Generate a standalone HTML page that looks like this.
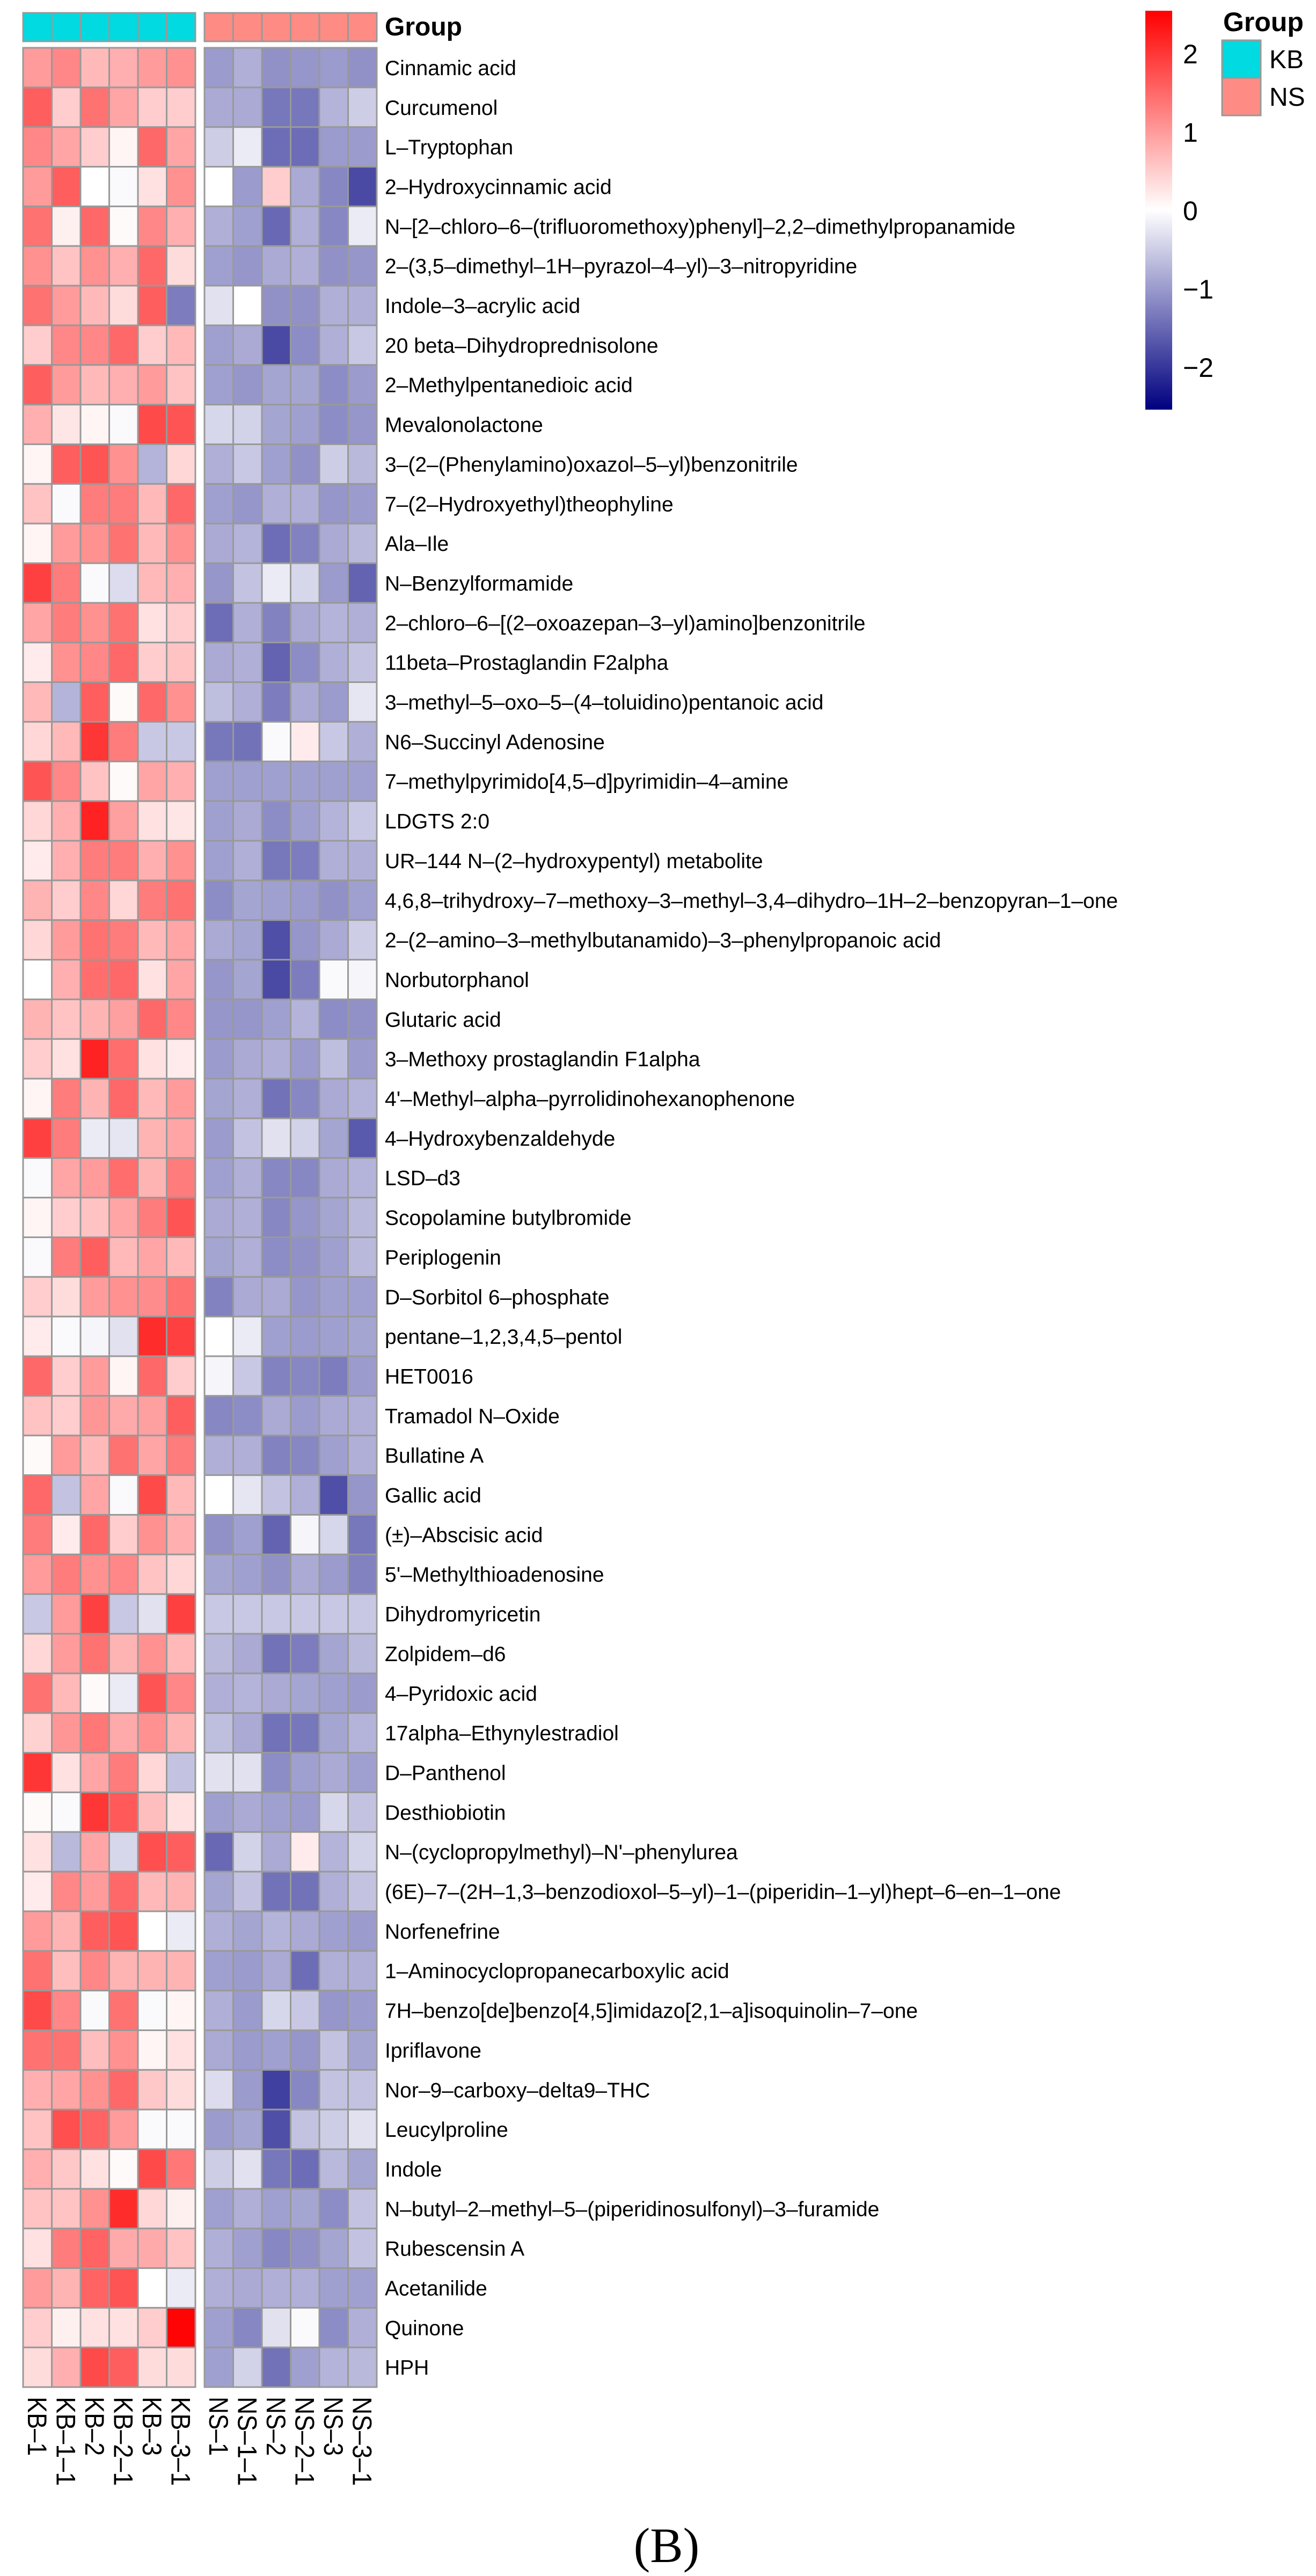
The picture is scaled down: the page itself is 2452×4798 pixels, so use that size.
<!DOCTYPE html>
<html><head><meta charset="utf-8"><style>
html,body{margin:0;padding:0;background:#fff;}
svg{display:block;}
text{font-family:"Liberation Sans",sans-serif;}
</style></head><body>
<svg id="chart" width="2452" height="4798" viewBox="0 0 2452 4798" xmlns="http://www.w3.org/2000/svg">
<defs>
<linearGradient id="cbar" x1="0" y1="1" x2="0" y2="0">
<stop offset="0" stop-color="#000080"/>
<stop offset="0.5" stop-color="#ffffff"/>
<stop offset="1" stop-color="#ff0000"/>
</linearGradient>
</defs>
<g id="heat"></g>
<g id="ann"></g>
<g id="rowlabels"></g>
<g id="collabels"></g>
<text x="717" y="66" font-size="48" font-weight="bold">Group</text>
<g>
<rect x="2134" y="20" width="50" height="743" fill="url(#cbar)"/>
<g id="cticks"></g>
</g>
<g>
<text x="2279" y="58" font-size="50" font-weight="bold">Group</text>
<rect x="2277" y="75" width="72" height="70" fill="#00DAE0" stroke="#999" stroke-width="3"/>
<rect x="2277" y="145" width="72" height="70" fill="#FF8C84" stroke="#999" stroke-width="3"/>
<text x="2365" y="127" font-size="48">KB</text>
<text x="2365" y="197" font-size="48">NS</text>
</g>
<text x="1242" y="4772" font-size="92" text-anchor="middle" style="font-family:'Liberation Serif',serif">(B)</text>
</svg>
<script>
const samples = ["KB–1","KB–1–1","KB–2","KB–2–1","KB–3","KB–3–1","NS–1","NS–1–1","NS–2","NS–2–1","NS–3","NS–3–1"];
const groups = ["KB","KB","KB","KB","KB","KB","NS","NS","NS","NS","NS","NS"];
const tickValues = [2,1,0,-1,-2];
const tickLabels = ["2","1","0","−1","−2"];
const metabolites = ["Cinnamic acid","Curcumenol","L–Tryptophan","2–Hydroxycinnamic acid","N–[2–chloro–6–(trifluoromethoxy)phenyl]–2,2–dimethylpropanamide","2–(3,5–dimethyl–1H–pyrazol–4–yl)–3–nitropyridine","Indole–3–acrylic acid","20 beta–Dihydroprednisolone","2–Methylpentanedioic acid","Mevalonolactone","3–(2–(Phenylamino)oxazol–5–yl)benzonitrile","7–(2–Hydroxyethyl)theophyline","Ala–Ile","N–Benzylformamide","2–chloro–6–[(2–oxoazepan–3–yl)amino]benzonitrile","11beta–Prostaglandin F2alpha","3–methyl–5–oxo–5–(4–toluidino)pentanoic acid","N6–Succinyl Adenosine","7–methylpyrimido[4,5–d]pyrimidin–4–amine","LDGTS 2:0","UR–144 N–(2–hydroxypentyl) metabolite","4,6,8–trihydroxy–7–methoxy–3–methyl–3,4–dihydro–1H–2–benzopyran–1–one","2–(2–amino–3–methylbutanamido)–3–phenylpropanoic acid","Norbutorphanol","Glutaric acid","3–Methoxy prostaglandin F1alpha","4'–Methyl–alpha–pyrrolidinohexanophenone","4–Hydroxybenzaldehyde","LSD–d3","Scopolamine butylbromide","Periplogenin","D–Sorbitol 6–phosphate","pentane–1,2,3,4,5–pentol","HET0016","Tramadol N–Oxide","Bullatine A","Gallic acid","(±)–Abscisic acid","5'–Methylthioadenosine","Dihydromyricetin","Zolpidem–d6","4–Pyridoxic acid","17alpha–Ethynylestradiol","D–Panthenol","Desthiobiotin","N–(cyclopropylmethyl)–N'–phenylurea","(6E)–7–(2H–1,3–benzodioxol–5–yl)–1–(piperidin–1–yl)hept–6–en–1–one","Norfenefrine","1–Aminocyclopropanecarboxylic acid","7H–benzo[de]benzo[4,5]imidazo[2,1–a]isoquinolin–7–one","Ipriflavone","Nor–9–carboxy–delta9–THC","Leucylproline","Indole","N–butyl–2–methyl–5–(piperidinosulfonyl)–3–furamide","Rubescensin A","Acetanilide","Quinone","HPH"];
const kbValues = [
[1.0,1.2,0.7,0.8,1.0,1.1],[1.6,0.5,1.4,0.9,0.5,0.5],[1.2,0.9,0.5,0.1,1.5,0.9],[1.0,1.6,0,-0.05,0.3,1.1],[1.4,0.15,1.5,0.05,1.2,0.8],
[1.1,0.6,1.1,0.8,1.5,0.35],[1.4,1.0,0.7,0.35,1.6,-1.3],[0.5,1.2,1.2,1.5,0.5,0.7],[1.6,1.0,0.7,0.8,1.0,0.6],[0.8,0.25,0.1,-0.05,1.8,1.7],
[0.1,1.6,1.7,1.1,-0.75,0.4],[0.6,-0.05,1.3,1.3,0.7,1.5],[0.1,1.0,1.1,1.4,0.7,1.1],[1.9,1.3,-0.05,-0.35,0.7,0.8],[0.9,1.3,1.1,1.4,0.3,0.5],
[0.2,1.1,1.2,1.5,0.5,0.6],[0.7,-0.75,1.6,0.05,1.5,1.1],[0.4,0.7,2.0,1.3,-0.55,-0.55],[1.7,1.2,0.6,0.05,0.9,0.8],[0.4,0.8,2.2,0.95,0.3,0.25],
[0.2,0.8,1.3,1.3,0.8,1.1],[0.75,0.5,1.2,0.4,1.3,1.4],[0.4,1.0,1.4,1.3,0.7,0.9],[0,0.8,1.45,1.5,0.3,0.9],[0.75,0.6,0.75,0.95,1.5,1.2],
[0.5,0.3,2.2,1.45,0.3,0.2],[0.1,1.3,0.75,1.5,0.7,1.0],[1.9,1.3,-0.2,-0.25,0.75,0.9],[-0.05,0.9,1.0,1.45,0.75,1.3],[0.1,0.5,0.6,0.9,1.3,1.7],
[-0.05,1.3,1.6,0.7,0.9,0.7],[0.5,0.35,1.0,1.1,1.15,1.4],[0.2,-0.05,-0.1,-0.3,2.1,1.9],[1.5,0.5,1.0,0.1,1.5,0.5],[0.6,0.5,1.05,0.85,0.95,1.6],
[0.05,1.0,0.7,1.4,0.9,1.3],[1.5,-0.6,0.9,-0.05,1.8,0.7],[1.3,0.2,1.5,0.5,1.1,0.8],[1.0,1.3,1.1,1.2,0.6,0.4],[-0.55,1.0,1.9,-0.55,-0.3,1.9],
[0.4,1.0,1.4,0.75,1.1,0.7],[1.4,0.7,0.05,-0.2,1.7,1.2],[0.45,1.05,1.35,0.85,1.1,0.75],[2.0,0.3,0.9,1.3,0.4,-0.6],[0.05,-0.05,2.0,1.65,0.65,0.3],
[0.3,-0.7,0.9,-0.4,1.75,1.6],[0.2,1.2,1.0,1.5,0.7,0.75],[1.0,0.75,1.6,1.7,0,-0.2],[1.4,0.65,1.2,0.75,0.75,0.75],[1.8,1.2,-0.05,1.4,-0.05,0.1],
[1.4,1.4,0.65,1.1,0.1,0.3],[0.8,0.9,1.1,1.5,0.55,0.35],[0.6,1.75,1.55,1.0,-0.05,-0.05],[0.8,0.55,0.3,0.05,1.8,1.35],[0.6,0.6,1.1,2.1,0.4,0.15],
[0.3,1.3,1.55,0.85,0.85,0.6],[1.0,0.75,1.55,1.7,0,-0.2],[0.5,0.15,0.3,0.3,0.5,2.5],[0.35,0.8,1.8,1.6,0.35,0.35]];
const nsValues = [
[-1.0,-0.8,-1.1,-1.05,-1.0,-1.1],[-0.85,-0.85,-1.35,-1.35,-0.75,-0.5],[-0.5,-0.2,-1.45,-1.45,-1.0,-1.0],[0,-1.0,0.5,-0.85,-1.2,-1.8],[-0.8,-0.95,-1.5,-0.8,-1.2,-0.2],
[-0.95,-1.05,-0.85,-0.8,-1.1,-1.05],[-0.3,0,-1.1,-1.1,-0.8,-0.8],[-0.95,-0.85,-1.8,-1.15,-0.8,-0.55],[-0.95,-1.05,-0.9,-0.9,-1.15,-1.0],[-0.4,-0.45,-0.9,-0.95,-1.15,-1.05],
[-0.8,-0.55,-0.95,-1.1,-0.5,-0.7],[-0.95,-1.05,-0.8,-0.8,-1.05,-1.0],[-0.85,-0.75,-1.45,-1.25,-0.85,-0.7],[-1.05,-0.6,-0.2,-0.4,-1.0,-1.55],[-1.45,-0.8,-1.25,-0.85,-0.75,-0.8],
[-0.85,-0.8,-1.55,-1.15,-0.8,-0.6],[-0.65,-0.8,-1.3,-0.85,-1.0,-0.25],[-1.35,-1.4,-0.05,0.2,-0.55,-0.8],[-0.95,-0.95,-0.95,-0.95,-0.95,-0.95],[-0.95,-0.85,-1.15,-0.95,-0.75,-0.55],
[-0.95,-0.8,-1.35,-1.3,-0.8,-0.8],[-1.15,-0.9,-0.95,-1.0,-1.1,-0.95],[-0.85,-0.9,-1.75,-1.05,-0.85,-0.5],[-1.05,-0.9,-1.8,-1.3,-0.05,-0.1],[-1.05,-1.05,-0.95,-0.75,-1.15,-1.1],
[-1.0,-0.85,-0.8,-1.0,-0.65,-1.0],[-0.9,-0.8,-1.4,-1.2,-0.85,-0.75],[-1.0,-0.6,-0.3,-0.45,-0.9,-1.65],[-0.95,-0.8,-1.2,-1.2,-0.85,-0.75],[-0.85,-0.8,-1.2,-1.05,-0.9,-0.7],
[-0.9,-0.8,-1.15,-1.1,-0.95,-0.7],[-1.25,-0.85,-0.85,-1.05,-0.95,-0.95],[0,-0.2,-0.95,-1.0,-0.95,-0.9],[-0.1,-0.55,-1.25,-1.2,-1.3,-1.0],[-1.2,-1.15,-0.85,-1.0,-0.85,-0.8],
[-0.8,-0.8,-1.25,-1.2,-0.95,-0.8],[0,-0.25,-0.6,-0.8,-1.75,-1.05],[-1.1,-0.95,-1.55,-0.1,-0.4,-1.35],[-0.9,-0.95,-1.1,-0.85,-1.0,-1.25],[-0.55,-0.55,-0.55,-0.55,-0.55,-0.55],
[-0.7,-0.85,-1.4,-1.3,-0.9,-0.7],[-0.8,-0.75,-0.85,-0.9,-0.95,-1.0],[-0.65,-0.85,-1.4,-1.35,-0.9,-0.75],[-0.3,-0.3,-1.15,-0.95,-0.85,-0.95],[-0.95,-0.85,-0.95,-1.0,-0.4,-0.6],
[-1.5,-0.45,-0.85,0.2,-0.75,-0.45],[-0.9,-0.6,-1.4,-1.4,-0.8,-0.6],[-0.8,-0.9,-0.75,-0.85,-0.95,-1.0],[-0.95,-1.0,-0.85,-1.45,-0.8,-0.8],[-0.8,-1.0,-0.4,-0.55,-1.05,-1.0],
[-0.85,-1.0,-0.95,-1.05,-0.6,-0.9],[-0.35,-1.0,-1.9,-1.2,-0.6,-0.6],[-1.0,-0.9,-1.75,-0.6,-0.5,-0.3],[-0.5,-0.3,-1.35,-1.45,-0.7,-0.9],[-0.95,-0.8,-0.95,-0.9,-1.15,-0.6],
[-0.8,-0.95,-1.2,-1.1,-0.9,-0.6],[-0.8,-0.85,-0.8,-0.8,-0.95,-0.95],[-0.95,-1.2,-0.3,-0.05,-1.15,-0.8],[-0.95,-0.45,-1.4,-0.95,-0.75,-0.7]];

const NS="http://www.w3.org/2000/svg";
const top0=89, rowH=73.85, cellW=53.5, kbX=43, nsX=381, vmax=2.54;
const groupColor={KB:"#00DAE0",NS:"#FF8C84"};
function colX(j){return j<6 ? kbX+j*cellW : nsX+(j-6)*cellW;}
function rowY(i){return top0+i*rowH;}
function colorOf(v){
  let t=Math.max(-1,Math.min(1,v/vmax));
  let r,g,b;
  if(t>=0){r=255;g=Math.round(255*(1-t));b=g;}
  else{const s=-t;r=Math.round(255*(1-s));g=r;b=Math.round(255-(255-128)*s);}
  return "rgb("+r+","+g+","+b+")";
}
function mk(tag,attrs,parent){const e=document.createElementNS(NS,tag);for(const k in attrs)e.setAttribute(k,attrs[k]);parent.appendChild(e);return e;}
const heat=document.getElementById("heat");
for(let i=0;i<metabolites.length;i++){
  const row=kbValues[i].concat(nsValues[i]);
  for(let j=0;j<12;j++){
    const r=mk("rect",{x:colX(j),y:rowY(i),width:cellW,height:rowH,fill:colorOf(row[j]),stroke:"#999","stroke-width":3},heat);
    
    
  }
}
const ann=document.getElementById("ann");
for(let j=0;j<12;j++){
  const r=mk("rect",{x:colX(j),y:24,width:cellW,height:53,fill:groupColor[groups[j]],stroke:"#999","stroke-width":3},ann);
  
  
}
const rl=document.getElementById("rowlabels");
for(let i=0;i<metabolites.length;i++){
  const t=mk("text",{x:717,y:rowY(i)+rowH/2+14,"font-size":39},rl);
  t.textContent=metabolites[i];
  
  
}
const cl=document.getElementById("collabels");
const labTop=rowY(metabolites.length)+18;
for(let j=0;j<12;j++){
  const cx=colX(j)+cellW/2-18;
  const len=110+(samples[j].length-4)*28;
  const t=mk("text",{x:cx,y:labTop,"font-size":50,textLength:len,lengthAdjust:"spacingAndGlyphs",transform:"rotate(90 "+cx+" "+labTop+")"},cl);
  t.textContent=samples[j];
  
  
}
const ct=document.getElementById("cticks");
const cb0=392, cbScale=146;
for(let k=0;k<tickValues.length;k++){
  const t=mk("text",{x:2204,y:cb0-tickValues[k]*cbScale+18,"font-size":50},ct);
  t.textContent=tickLabels[k];
  
  
}
</script>
</body></html>
